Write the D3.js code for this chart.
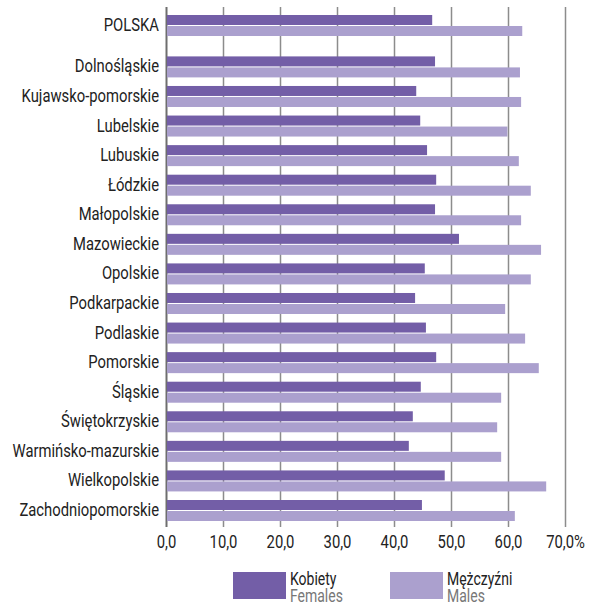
<!DOCTYPE html>
<html>
<head>
<meta charset="utf-8">
<script src="https://cdn.jsdelivr.net/npm/d3@7"></script>
<style>
	body { margin: 0; background: #fff; }
	text { font-family: Roboto, "Liberation Sans", sans-serif; }
</style>
</head>
<body>
<svg></svg>
<script>
const regions = [
	"POLSKA", "Dolnośląskie", "Kujawsko-pomorskie", "Lubelskie", "Lubuskie",
	"Łódzkie", "Małopolskie", "Mazowieckie", "Opolskie", "Podkarpackie",
	"Podlaskie", "Pomorskie", "Śląskie", "Świętokrzyskie",
	"Warmińsko-mazurskie", "Wielkopolskie", "Zachodniopomorskie"
];
const females = [46.7, 47.2, 43.9, 44.6, 45.8, 47.4, 47.2, 51.4, 45.4, 43.7, 45.6, 47.4, 44.7, 43.3, 42.6, 48.9, 44.9];
const males = [62.5, 62.1, 62.3, 59.9, 61.9, 64.0, 62.3, 65.8, 64.0, 59.5, 63.0, 65.4, 58.8, 58.1, 58.8, 66.7, 61.2];
const ticks = [0, 10, 20, 30, 40, 50, 60, 70];
const legendItems = [
	{ pl: "Kobiety", en: "Females" },
	{ pl: "Mężczyźni", en: "Males" }
];

const size = { w: 602, h: 605 };
const colors = ["#735ea7", "#aba0ce"];
const narrow = 0.8; // squeeze the text like a condensed face
const svg = d3.select("svg").attr("width", size.w).attr("height", size.h);

const x = d3.scaleLinear().domain([0, 70]).range([166, 565]);

// POLSKA sits alone at the top, the voivodeships follow after a small gap
const slot = (i) => (i === 0 ? 0 : i + 0.4);
const y = d3.scaleLinear().domain([0, 16.4]).range([15, 500]);
const barH = 10;

// axis + grid
const axis = d3
	.axisBottom(x)
	.tickValues(ticks)
	.tickSizeInner(-520)
	.tickSizeOuter(0)
	.tickPadding(8)
	.tickFormat((d) => d3.format(".1f")(d).replace(".", ",") + (d === 70 ? "%" : ""));

const axisG = svg.append("g").attr("transform", "translate(0,527)").call(axis);
axisG.select(".domain").remove();
axisG.selectAll(".tick line")
	.attr("stroke", (d) => (d === 0 ? "#6e6e6e" : "#8c8c8c"))
	.attr("stroke-width", (d) => (d === 0 ? 2 : 1.5));
axisG.selectAll(".tick text")
	.attr("fill", "#222")
	.attr("font-size", 18.5)
	.attr("transform", `scale(${narrow},1)`);

// bars
const rows = svg.append("g")
	.selectAll("g")
	.data(regions)
	.join("g")
	.attr("transform", (d, i) => `translate(0,${y(slot(i))})`);

rows.append("rect")
	.attr("x", x(0) + 1)
	.attr("y", 0)
	.attr("height", barH)
	.attr("width", (d, i) => x(females[i]) - x(0) - 1)
	.attr("fill", colors[0]);

rows.append("rect")
	.attr("x", x(0) + 1)
	.attr("y", barH + 1)
	.attr("height", barH)
	.attr("width", (d, i) => x(males[i]) - x(0) - 1)
	.attr("fill", colors[1]);

rows.append("text")
	.attr("transform", `translate(159,${barH + 6}) scale(${narrow},1)`)
	.attr("text-anchor", "end")
	.attr("font-size", 18.5)
	.attr("fill", "#222")
	.text((d) => d);

// legend
const legend = svg.append("g")
	.selectAll("g")
	.data(legendItems)
	.join("g")
	.attr("transform", (d, i) => `translate(${233 + i * 157},572)`);

legend.append("rect")
	.attr("width", 53)
	.attr("height", 27)
	.attr("fill", (d, i) => colors[i]);

legend.append("text")
	.attr("transform", `translate(57,13) scale(${narrow},1)`)
	.attr("font-size", 17.5)
	.attr("fill", "#222")
	.text((d) => d.pl);

legend.append("text")
	.attr("transform", `translate(57,30) scale(${narrow},1)`)
	.attr("font-size", 17.5)
	.attr("fill", "#777")
	.text((d) => d.en);
</script>
</body>
</html>
